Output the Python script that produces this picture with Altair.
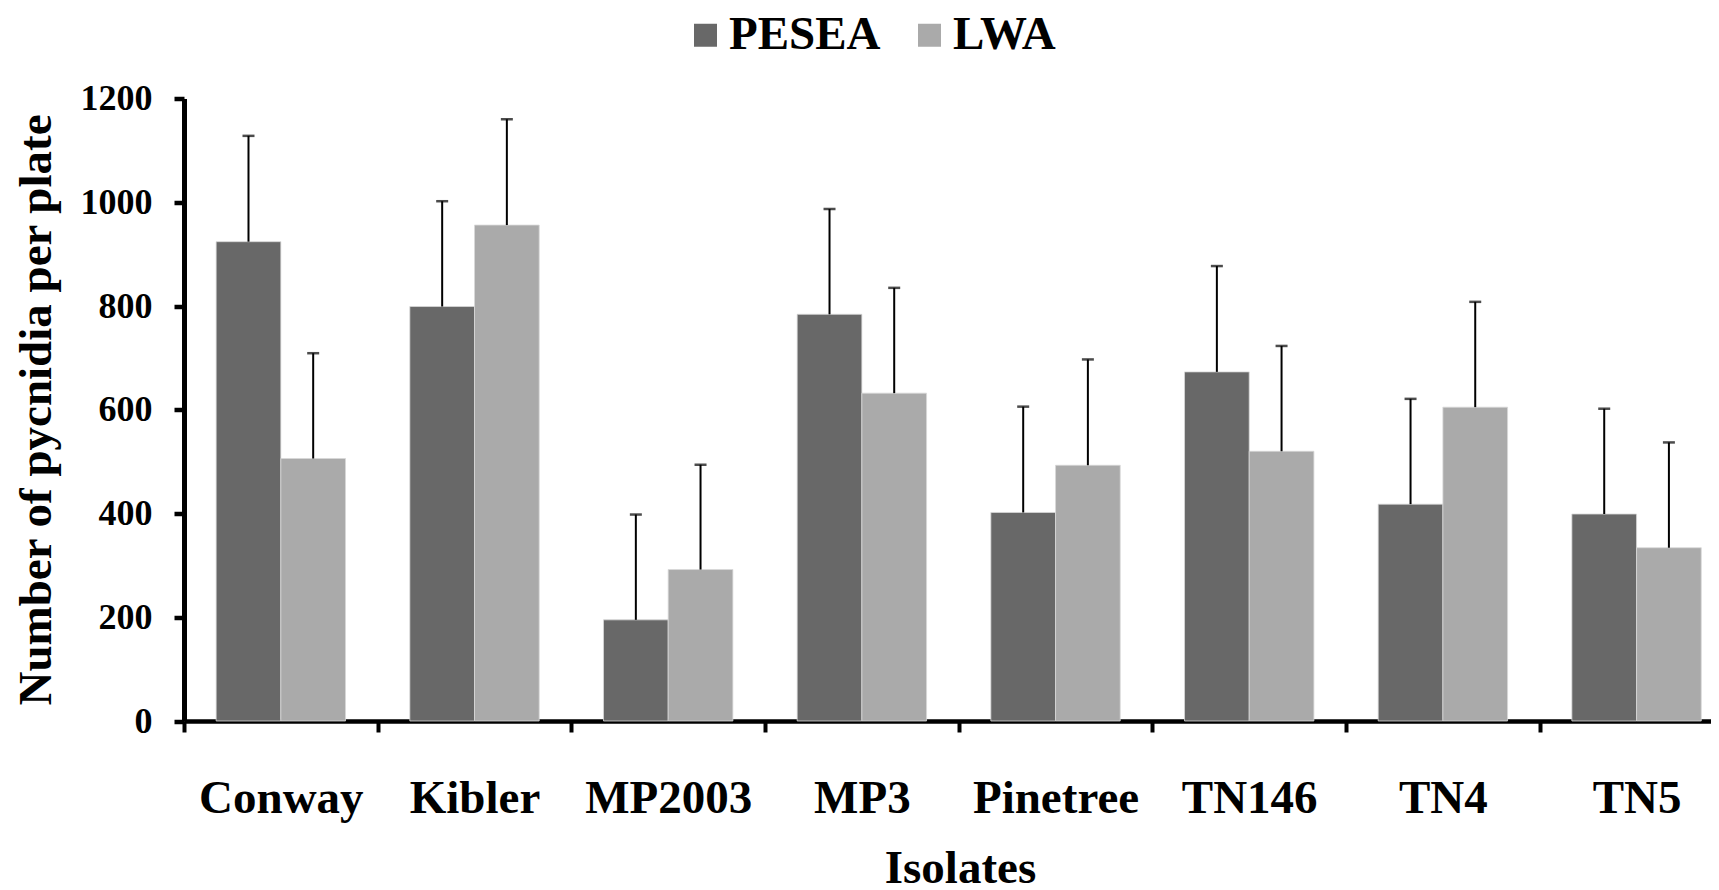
import altair as alt
import pandas as pd

isolates = ["Conway", "Kibler", "MP2003", "MP3", "Pinetree", "TN146", "TN4", "TN5"]
series = ["PESEA", "LWA"]
pesea_mean = [924, 799, 195, 784, 402, 673, 418, 399]
pesea_err = [204, 203, 203, 203, 204, 204, 203, 203]
lwa_mean = [506, 956, 292, 632, 493, 520, 605, 334]
lwa_err = [203, 204, 202, 203, 204, 203, 203, 203]
colors = ["#686868", "#aaaaaa"]
y_ticks = [0, 200, 400, 600, 800, 1000, 1200]

rows = []
for i, iso in enumerate(isolates):
    rows.append({"isolate": iso, "series": "PESEA", "mean": pesea_mean[i], "upper": pesea_mean[i] + pesea_err[i]})
    rows.append({"isolate": iso, "series": "LWA", "mean": lwa_mean[i], "upper": lwa_mean[i] + lwa_err[i]})
df = pd.DataFrame(rows)

FONT = "Liberation Serif"
W = 1527
H = 622.5

x_enc = alt.X(
    "isolate:N",
    sort=isolates,
    scale=alt.Scale(paddingInner=0, paddingOuter=0, range=[0, 1549.4]),
    axis=alt.Axis(
        title="Isolates",
        titleFont=FONT, titleFontSize=47, titleFontWeight="bold", titleColor="black",
        titleBaseline="alphabetic", titleX=776, titleY=161, titleAnchor="middle", titleAlign="center",
        labelFont=FONT, labelFontSize=47, labelFontWeight="bold", labelColor="black",
        labelBaseline="alphabetic", labelPadding=80, labelAngle=0,
        tickBand="extent", tickSize=11, tickWidth=4, tickColor="black",
        domainColor="black", domainWidth=4.5, grid=False,
    ),
)
xoff = alt.XOffset("series:N", sort=series,
                   scale=alt.Scale(domain=series, paddingInner=0, paddingOuter=0.497))
y_enc = alt.Y(
    "mean:Q",
    scale=alt.Scale(domain=[0, 1200], nice=False),
    axis=alt.Axis(
        title="Number of pycnidia per plate",
        titleFont=FONT, titleFontSize=47, titleFontWeight="bold", titleColor="black",
        titleBaseline="alphabetic", titleAngle=270, titleX=-134, titleY=311, titleAlign="center",
        values=y_ticks, format="d",
        labelFont=FONT, labelFontSize=36, labelFontWeight="bold", labelColor="black",
        labelPadding=22, tickSize=10, tickWidth=4.5, tickColor="black",
        domainColor="black", domainWidth=5, grid=False,
    ),
)

bars = alt.Chart(df).mark_bar(stroke="#d8d8d8", strokeWidth=0.8).encode(
    x=x_enc,
    xOffset=xoff,
    y=y_enc,
    color=alt.Color(
        "series:N",
        sort=series,
        scale=alt.Scale(domain=series, range=colors),
        legend=alt.Legend(
            title=None, orient="none", direction="horizontal",
            legendX=498, legendY=-87,
            symbolType="square", symbolSize=529, symbolStrokeWidth=0,
            labelFont=FONT, labelFontSize=47, labelFontWeight="bold", labelColor="black",
            labelBaseline="middle", labelOffset=0,
            columnPadding=25, padding=0,
        ),
    ),
)

err = alt.Chart(df).mark_rule(color="black", strokeWidth=2).encode(
    x=alt.X("isolate:N", sort=isolates),
    xOffset=alt.XOffset("series:N", sort=series),
    y="mean:Q",
    y2="upper:Q",
)

caps = alt.Chart(df).mark_tick(color="black", thickness=2.5, size=12, orient="horizontal").encode(
    x=alt.X("isolate:N", sort=isolates),
    xOffset=alt.XOffset("series:N", sort=series),
    y="upper:Q",
)

chart = (
    alt.layer(bars, err, caps)
    .properties(
        width=W, height=H,
        autosize=alt.AutoSizeParams(type="none"),
        padding={"left": 176, "top": 90.5, "right": 0, "bottom": 169},
        background="white",
    )
    .configure_view(stroke=None)
)

chart.save("out.html", embed_options={"renderer": "svg", "actions": False})
